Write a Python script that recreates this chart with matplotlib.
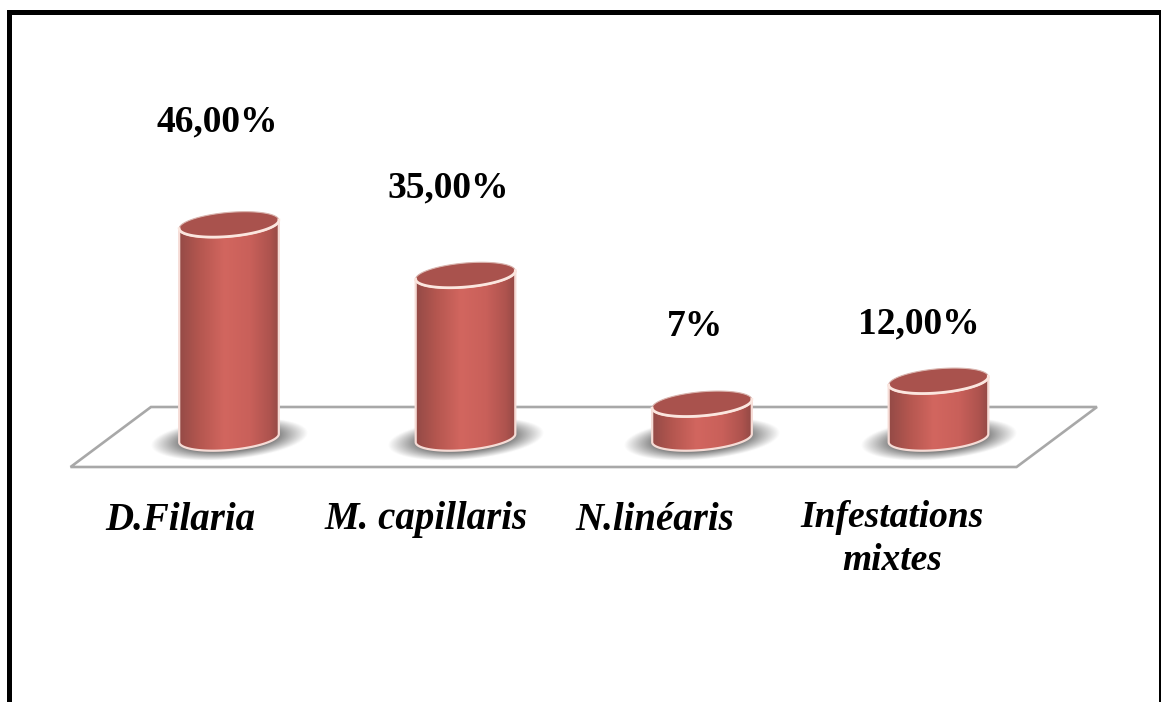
import matplotlib
matplotlib.use("Agg")
import matplotlib.pyplot as plt
import numpy as np
from matplotlib.colors import LinearSegmentedColormap
from matplotlib.patches import Polygon, Rectangle

categories = ["D.Filaria", "M. capillaris", "N.linéaris", "Infestations\nmixtes"]
values = [46, 35, 7, 12]
value_labels = ["46,00%", "35,00%", "7%", "12,00%"]

# pixels par unite (categorie / pourcent), origine sur la base de la 1ere barre
SX = 236.5
SY = 4.6
X0 = 229
Y0 = 438
W, H = 1161, 702
TOP_PAD = 2 / SY

# decalages en pixels des textes par rapport aux barres
label_dx = [-49, -39, -47, -46]
label_dy = [82, 82, 82, 101]
label_size = [28, 28, 28, 27]
value_dx = [-12, -17, -7, -20]
value_dy = [102, 87, 77, 57]

body_cmap = LinearSegmentedColormap.from_list(
    "body",
    [(0, "#934a46"), (0.2, "#b3564f"), (0.45, "#d2665f"), (0.7, "#c9605a"), (0.9, "#ad534e"), (1, "#8f4844")],
)

fig = plt.figure(figsize=(W / 100, H / 100), dpi=100)
ax = fig.add_axes([0, 0, 1, 1])
ax.set_axis_off()
xlim = (-X0 / SX, (W - X0) / SX)
ylim = ((Y0 - H) / SY, Y0 / SY)


def ellipse(cx, cy, t, a=50, b=12, tilt=5):
    phi = np.radians(tilt)
    dx = a * np.cos(t) * np.cos(phi) - b * np.sin(t) * np.sin(phi)
    dy = a * np.cos(t) * np.sin(phi) + b * np.sin(t) * np.cos(phi)
    return cx + dx / SX, cy + dy / SY


# plancher du graphique
floor_x = [-0.33, 3.67, 3.33, -0.67]
floor_y = [31 / SY, 31 / SY, -29 / SY, -29 / SY]
ax.add_patch(Polygon(np.column_stack([floor_x, floor_y]), closed=True, fc="white", ec="#a8a8a8", lw=1.9, zorder=1))

for i, val in enumerate(values):
    top = val + TOP_PAD

    # ombre floue au pied du cylindre
    px = np.linspace(-90, 90, 181)
    py = np.linspace(-30, 30, 61)
    gx, gy = np.meshgrid(px, py)
    phi = np.radians(5)
    u = gx * np.cos(phi) + gy * np.sin(phi)
    v = -gx * np.sin(phi) + gy * np.cos(phi)
    r = np.sqrt((u / 75) ** 2 + (v / 20) ** 2)
    rgba = np.zeros(gx.shape + (4,))
    rgba[..., :3] = 0.45
    rgba[..., 3] = np.clip((1.05 - r) * 2.2, 0, 0.95)
    ax.imshow(
        rgba,
        extent=(i - 90 / SX, i + 90 / SX, -31 / SY, 29 / SY),
        origin="lower",
        aspect="auto",
        zorder=2,
    )

    # corps du cylindre
    t1 = np.linspace(np.pi, 2 * np.pi, 60)
    t2 = np.linspace(2 * np.pi, np.pi, 60)
    bx, by = ellipse(i, 0, t1)
    tx, ty = ellipse(i, top, t2)
    body = Polygon(
        np.column_stack([np.r_[bx, tx], np.r_[by, ty]]),
        closed=True,
        fc="none",
        ec="#f6dcd6",
        lw=1.6,
        zorder=4,
    )
    ax.add_patch(body)
    grad = ax.imshow(
        np.linspace(0, 1, 200)[None, :],
        cmap=body_cmap,
        extent=(i - 51 / SX, i + 51 / SX, -14 / SY, top + 14 / SY),
        aspect="auto",
        zorder=3,
    )
    clip = Polygon(body.get_xy(), closed=True, transform=ax.transData)
    grad.set_clip_path(clip)

    # dessus du cylindre
    t = np.linspace(0, 2 * np.pi, 120)
    ex, ey = ellipse(i, top, t)
    ax.fill(ex, ey, fc="#a9524d", ec="none", zorder=5)
    ax.plot(ex, ey, color="#d9b4ae", lw=0.8, zorder=6)
    fx, fy = ellipse(i, top, t1)
    ax.plot(fx, fy, color="#fbe6df", lw=2.0, zorder=6)

    ax.text(
        i + value_dx[i] / SX,
        top + value_dy[i] / SY,
        value_labels[i],
        ha="center",
        va="center",
        family="Liberation Serif",
        weight="bold",
        size=27,
        color="black",
        zorder=7,
    )
    ax.text(
        i + label_dx[i] / SX,
        -label_dy[i] / SY,
        categories[i],
        ha="center",
        va="center",
        family="Liberation Serif",
        weight="bold",
        style="italic",
        size=label_size[i],
        linespacing=1.3,
        color="black",
        zorder=7,
    )

ax.set_xlim(xlim)
ax.set_ylim(ylim)

# cadre noir ouvert en bas
for rect in [(7, 0, 5, H - 10), (7, H - 15, W - 7, 5), (W - 2, 0, 2, H - 10)]:
    fig.add_artist(
        Rectangle((rect[0] / W, rect[1] / H), rect[2] / W, rect[3] / H, transform=fig.transFigure, fc="black", ec="none")
    )

fig.savefig("out.png", dpi=100)
